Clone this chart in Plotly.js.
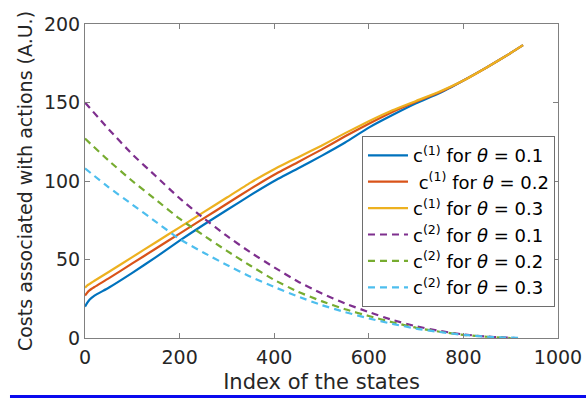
<!DOCTYPE html>
<html>
<head>
<meta charset="utf-8">
<script src="https://cdn.plot.ly/plotly-3.0.1.min.js"></script>
<style>html,body{margin:0;padding:0;background:#fff;}#chart{width:586px;height:399px;}</style>
</head>
<body>
<div id="chart"></div>
<script>
// Solid curves c(1)
var xSolid = [0,5,10,20,50,100,150,200,250,300,350,400,450,500,550,600,650,700,750,800,850,900,926];
var c1_t01 = [20,22.5,24.5,27,32,41.5,51.5,62,72,81.5,91,100,108,116,124.5,134,142,149.5,156,164,172.5,181.5,186.5];
var c1_t02 = [27,29,30.5,32.5,38,47.5,57,66.5,76,85.5,95,104,112,120,128.5,136.5,144,150.5,156.5,164,172.5,181.5,186.5];
var c1_t03 = [32,33.5,34.5,36.5,42,51.5,61,70.5,80,89.5,99,107.5,115,122.5,130.5,138,145,151,157,164,172.5,181.5,186.5];

// Dashed curves c(2)
var xD1 = [0,50,100,150,200,250,300,350,400,450,500,550,600,650,700,750,800,850,880,910];
var xD2 = [0,50,100,150,200,250,300,350,400,450,500,550,600,650,700,750,800,850,880,900];
var xD3 = [0,50,100,150,200,250,300,350,400,450,500,550,600,650,700,750,800,850,890,926];
var c2_t01 = [150,133,117,103,89,76.5,65,54.5,45,36,28.5,22,16.5,11.5,7.5,4.5,2.3,0.9,0.4,0];
var c2_t02 = [127,113,100,88,76,65.5,55.5,46,37,29.5,23.5,18.3,14,10,6.5,4,2,0.8,0.3,0];
var c2_t03 = [108,96,85,74,63,54.5,46.5,39,32.5,26.5,21,16.5,12.5,9,6,3.8,2,0.8,0.3,0];

var names = [
  'c<sup>(1)</sup> for <i>θ</i> = 0.1',
  '\u00A0c<sup>(1)</sup> for <i>θ</i> = 0.2',
  'c<sup>(1)</sup> for <i>θ</i> = 0.3',
  'c<sup>(2)</sup> for <i>θ</i> = 0.1',
  'c<sup>(2)</sup> for <i>θ</i> = 0.2',
  'c<sup>(2)</sup> for <i>θ</i> = 0.3'
];
var colors = ['#0072BD','#D95319','#EDB120','#7E2F8E','#77AC30','#4DBEEE'];

var FONT = 'DejaVu Sans, Liberation Sans, Arial, sans-serif';

function solid(x, y, i) {
  return {x: x, y: y, type: 'scatter', mode: 'lines', name: names[i],
    line: {color: colors[i], width: 2.2, shape: 'spline', smoothing: 0.5}};
}
function dashed(x, y, i) {
  return {x: x, y: y, type: 'scatter', mode: 'lines', name: names[i],
    line: {color: colors[i], width: 2.2, dash: '7px,5px', shape: 'spline', smoothing: 0.5}};
}

var data = [
  solid(xSolid, c1_t01, 0),
  solid(xSolid, c1_t02, 1),
  solid(xSolid, c1_t03, 2),
  dashed(xD1, c2_t01, 3),
  dashed(xD2, c2_t02, 4),
  dashed(xD3, c2_t03, 5)
];

var axisCommon = {
  showgrid: false, zeroline: false, showline: true, linecolor: '#808080', linewidth: 1,
  mirror: 'ticks', ticks: 'inside', ticklen: 5, tickwidth: 1, tickcolor: '#808080',
  tickfont: {family: FONT, size: 19, color: '#262626'}
};

var layout = {
  width: 586, height: 399,
  margin: {l: 85, r: 28, t: 24, b: 61, pad: 0},
  paper_bgcolor: '#ffffff', plot_bgcolor: '#ffffff',
  showlegend: true,
  xaxis: Object.assign({}, axisCommon, {
    range: [0, 1000], tickvals: [0,200,400,600,800,1000],
    ticklabelstandoff: 2,
    title: {text: 'Index of the states', font: {family: FONT, size: 21, color: '#262626'}, standoff: 7}
  }),
  yaxis: Object.assign({}, axisCommon, {
    range: [0, 200], tickvals: [0,50,100,150,200],
    title: {text: 'Costs associated with actions (A.U.)', font: {family: FONT, size: 19, color: '#262626'}, standoff: 6}
  }),
  legend: {
    x: 0.5856, y: 0.643, xanchor: 'left', yanchor: 'top',
    bgcolor: '#ffffff', bordercolor: '#6e6e6e', borderwidth: 1,
    font: {family: FONT, size: 18, color: '#000000'},
    itemwidth: 40, tracegroupgap: 0
  },
  shapes: [{
    type: 'rect', xref: 'paper', yref: 'paper',
    x0: -0.1586, x1: 1.06, y0: -0.191, y1: -0.1815,
    fillcolor: '#0a0aee', line: {width: 0}, layer: 'above'
  }]
};

Plotly.newPlot('chart', data, layout, {displayModeBar: false, staticPlot: true});
</script>
</body>
</html>
